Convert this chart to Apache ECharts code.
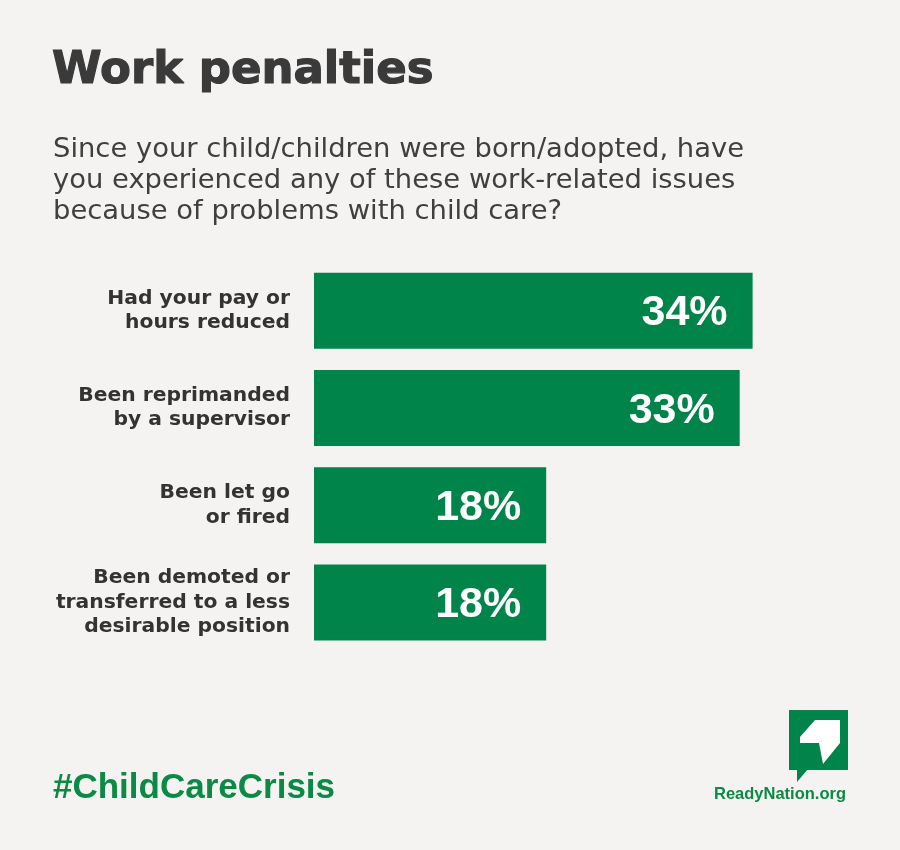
<!DOCTYPE html>
<html>
<head>
<meta charset="utf-8">
<script src="https://cdn.jsdelivr.net/npm/echarts@6/dist/echarts.min.js"></script>
<style>
html,body{margin:0;padding:0;background:#f4f3f1;}
#c{width:900px;height:850px;}
</style>
</head>
<body>
<div id="c"></div>
<script>
const titleText = 'Work penalties';
const subtitleText = 'Since your child/children were born/adopted, have\nyou experienced any of these work-related issues\nbecause of problems with child care?';
const categories = [
  'Had your pay or\nhours reduced',
  'Been reprimanded\nby a supervisor',
  'Been let go\nor fired',
  'Been demoted or\ntransferred to a less\ndesirable position'
];
const values = [34, 33, 18, 18];
const hashtag = '#ChildCareCrisis';
const siteName = 'ReadyNation.org';

const GREEN = '#00844a';
const chart = echarts.init(document.getElementById('c'));
chart.setOption({
  backgroundColor: '#f4f3f1',
  animation: false,
  title: [
    {
      text: titleText, left: 52, top: 49, padding: 0,
      textStyle: { fontFamily: 'DejaVu Sans', fontWeight: 'bold', fontSize: 45, color: '#3a3a3a',
        textBorderColor: '#3a3a3a', textBorderWidth: 1.2 }
    },
    {
      text: subtitleText, left: 53, top: 134, padding: 0,
      textStyle: { fontFamily: 'DejaVu Sans', fontWeight: 'normal', fontSize: 27.4, lineHeight: 31, color: '#3f3f3f' }
    },
    {
      text: hashtag, left: 53, top: 771, padding: 0,
      textStyle: { fontFamily: 'Liberation Sans', fontWeight: 'bold', fontSize: 35, color: '#0a8a45' }
    },
    {
      text: siteName, left: 714, top: 786, padding: 0,
      textStyle: { fontFamily: 'Liberation Sans', fontWeight: 'bold', fontSize: 16.5, color: '#0a8a45' }
    }
  ],
  grid: { left: 314, top: 262, width: 516, height: 389, containLabel: false },
  xAxis: {
    type: 'value', min: 0, max: 40, show: false
  },
  yAxis: {
    type: 'category', data: categories, inverse: true,
    axisLine: { show: false }, axisTick: { show: false },
    axisLabel: {
      margin: 24, fontFamily: 'DejaVu Sans', fontWeight: 'bold', fontSize: 20.3, lineHeight: 24.5,
      color: '#333333', align: 'right'
    }
  },
  series: [{
    type: 'bar', data: values, barWidth: 76,
    itemStyle: { color: GREEN },
    label: {
      show: true, position: 'insideRight', distance: 25, offset: [0, 3],
      formatter: '{c}%', color: '#ffffff', fontFamily: 'Liberation Sans', fontWeight: 'bold', fontSize: 43
    }
  }],
  graphic: [
    { type: 'rect', shape: { x: 789, y: 710, width: 59, height: 60 }, style: { fill: GREEN } },
    { type: 'polygon', shape: { points: [[797, 769], [808, 769], [797, 782]] }, style: { fill: GREEN } },
    { type: 'polygon', shape: { points: [[815, 720], [840, 720], [840, 743], [823, 764], [819, 743], [800, 743], [800, 737]] }, style: { fill: '#ffffff' } }
  ]
});
</script>
</body>
</html>
